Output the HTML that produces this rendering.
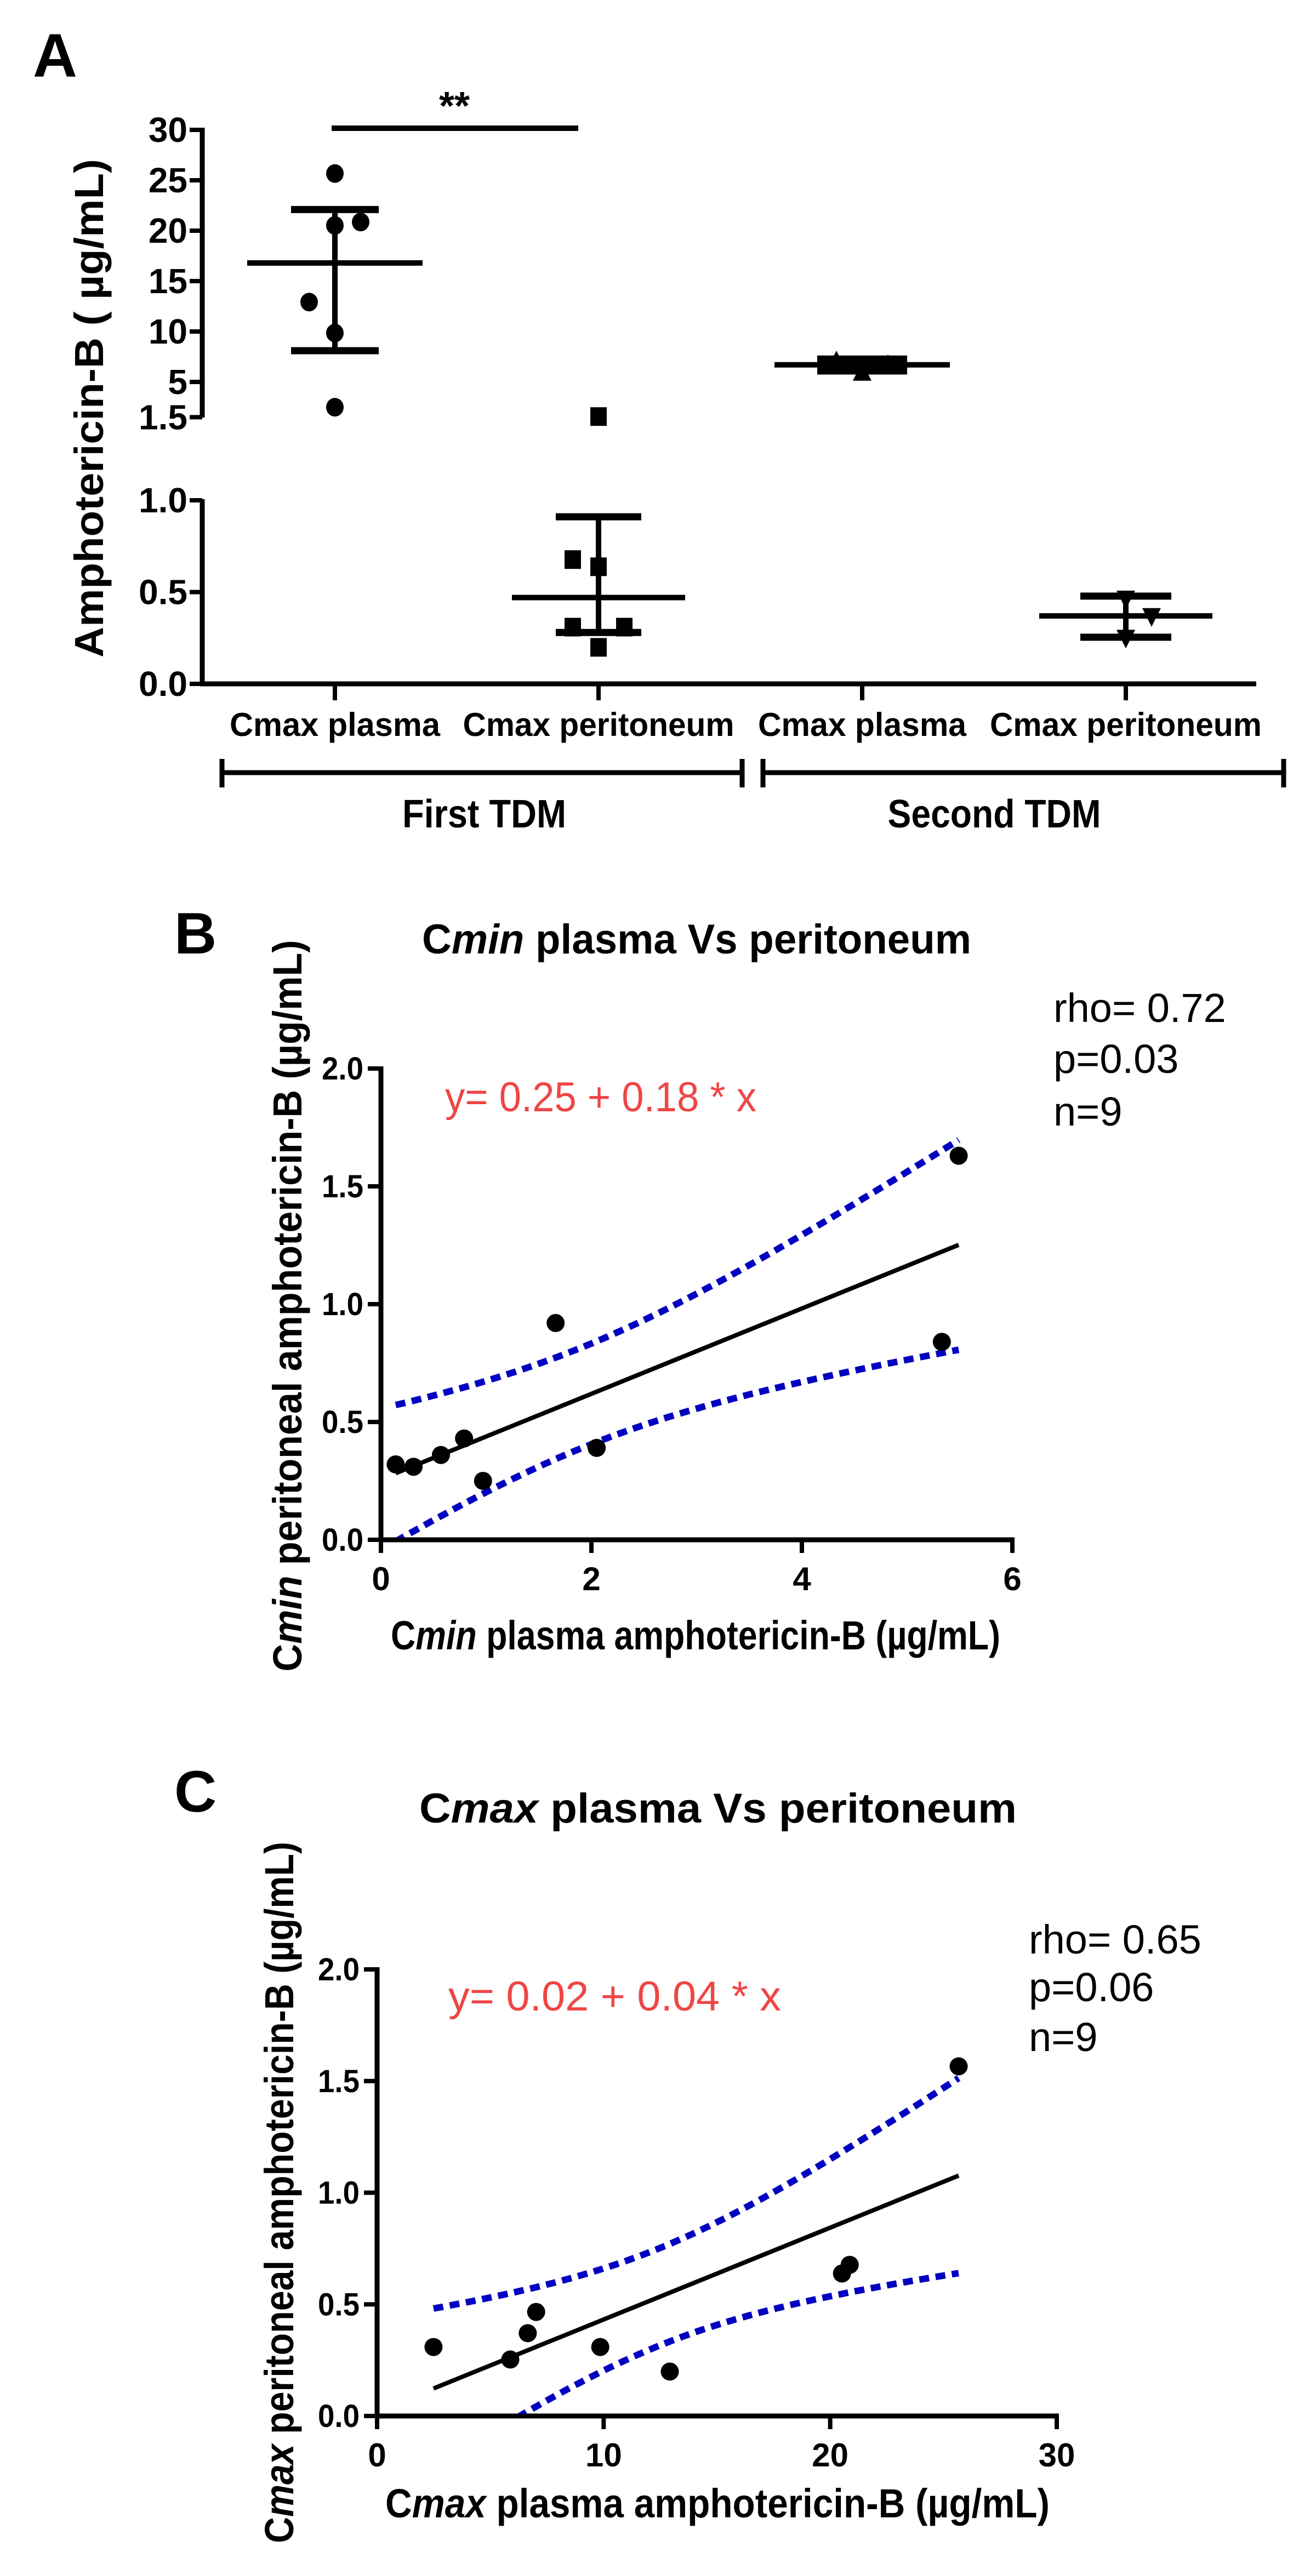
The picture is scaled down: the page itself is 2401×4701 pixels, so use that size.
<!DOCTYPE html>
<html><head><meta charset="utf-8"><style>
html,body{margin:0;padding:0;background:#fff;}
svg{display:block;}
text{font-family:"Liberation Sans",Arial,sans-serif;}
</style></head>
<body>
<svg id="fig" xmlns="http://www.w3.org/2000/svg" width="2401" height="4701" viewBox="0 0 2401 4701">
<rect x="0" y="0" width="2401" height="4701" fill="#fff"/>
<g id="pa"></g>
<g id="pb"></g>
<g id="pc"></g>
</svg>
<script>
// ---------- Panel A data ----------
const aCategories = ['Cmax plasma','Cmax peritoneum','Cmax plasma','Cmax peritoneum'];
const aPlasma1 = [25.67,20.52,20.86,12.92,9.85,2.49];
const aPerit1 = [1.566,0.677,0.638,0.309,0.309,0.199];
const aPlasma2 = [7.02,6.65,5.88];
const aPerit2 = [0.466,0.371,0.253];
const aJitter1 = [0,0,1,-1,0,0];
const aJitter2 = [0,-1,0,-1,1,0];
const aJitter3 = [-1,1,0];
const aJitter4 = [0,1,0];
const aMean = [16.8,0.47,6.7,0.37];
const aUpper = [22.1,0.91,7.27,0.478];
const aLower = [8.1,0.28,6.09,0.254];
const aUpperTicks = [5,10,15,20,25,30];
const aLowerTicks = [0.0,0.5,1.0];
const aGroups = ['First TDM','Second TDM'];

// ---------- Panel B data ----------
const bX = [0.14,0.31,0.57,0.79,0.97,1.66,2.05,5.33,5.49];
const bY = [0.32,0.31,0.36,0.43,0.25,0.92,0.39,0.84,1.63];
const bXTicks = [0,2,4,6];
const bYTicks = [0.0,0.5,1.0,1.5,2.0];

// ---------- Panel C data ----------
const cX = [2.49,5.88,6.65,7.02,9.85,12.92,20.52,20.86,25.67];
const cY = [0.309,0.253,0.371,0.466,0.309,0.199,0.638,0.677,1.566];
const cXTicks = [0,10,20,30];
const cYTicks = [0.0,0.5,1.0,1.5,2.0];

const NS = 'http://www.w3.org/2000/svg';
function mk(parent, tag, attrs){
  const e = document.createElementNS(NS, tag);
  for (const k in attrs) e.setAttribute(k, attrs[k]);
  parent.appendChild(e);
  return e;
}
function line(p,x1,y1,x2,y2,w,col){ return mk(p,'line',{x1:x1,y1:y1,x2:x2,y2:y2,stroke:col||'#000','stroke-width':w}); }
function txt(p,x,y,s,size,weight,anchor,fill){
  const t = mk(p,'text',{x:x,y:y,'font-size':size,'font-weight':weight||'bold','text-anchor':anchor||'start',fill:fill||'#000'});
  t.textContent = s; return t;
}

// ================= PANEL A =================
(function(){
  const g = document.getElementById('pa');
  const axX = 369, y0 = 1248;
  const yA = v => v >= 1.5 ? 697 - (v-5)*18.4 : y0 - v*335;
  const xA = i => 611 + i*481;
  const J = 47;

  let t = txt(g,60,140,'A',112);
  
  

  let l = line(g,axX,233,axX,762,9);
  
  
  l = line(g,axX,911,axX,y0+4,9);
  
  
  l = line(g,axX-4,y0,2292,y0,9);
  
  

  aUpperTicks.forEach(v=>{
    const y = yA(v);
    const tk = line(g,346,y,axX,y,8);
    
    
    const lb = txt(g,342,y+22,String(v),64,'bold','end');
    
    
  });
  {
    const y = yA(1.5);
    const tk = line(g,346,y,axX,y,8);
    
    
    const lb = txt(g,342,y+22,'1.5',64,'bold','end');
    
    
  }
  aLowerTicks.forEach(v=>{
    const y = yA(v);
    const tk = line(g,346,y,axX,y,8);
    
    
    const lb = txt(g,342,y+22,v.toFixed(1),64,'bold','end');
    
    
  });

  t = mk(g,'text',{x:0,y:0,'font-size':74,'font-weight':'bold','text-anchor':'middle',transform:'translate(188,745) rotate(-90)',textLength:910,lengthAdjust:'spacingAndGlyphs'});
  t.textContent = 'Amphotericin-B ( \u00b5g/mL)';
  
  

  const widths = [384,495,380,496];
  aCategories.forEach((c,i)=>{
    const tk = line(g,xA(i),y0,xA(i),1278,8);
    
    
    const lb = mk(g,'text',{x:xA(i),y:1343,'font-size':60,'font-weight':'bold','text-anchor':'middle',textLength:widths[i],lengthAdjust:'spacingAndGlyphs'});
    lb.textContent = c;
    
    
  });

  const br = [[405,1354],[1392,2342]];
  aGroups.forEach((gn,i)=>{
    const b = mk(g,'path',{d:`M${br[i][0]},1385 V1437 M${br[i][0]},1410 H${br[i][1]} M${br[i][1]},1385 V1437`,stroke:'#000','stroke-width':9,fill:'none'});
    
    
    const lb = mk(g,'text',{x:(br[i][0]+br[i][1])/2+(i?-53:4),y:1510,'font-size':72,'font-weight':'bold','text-anchor':'middle',textLength:i?389:299,lengthAdjust:'spacingAndGlyphs'});
    lb.textContent = gn;
    
    
  });

  l = line(g,605,234,1055,234,10);
  
  
  t = txt(g,829,218,'**',72,'bold','middle');
  
  

  const meanHalf = [160,158,160,158];
  const capHalf = [80,78,82,83];
  aMean.forEach((m,i)=>{
    const cx = xA(i);
    const v = line(g,cx,yA(aUpper[i]),cx,yA(aLower[i]),10);
    
    
    const ml = line(g,cx-meanHalf[i],yA(m),cx+meanHalf[i],yA(m),10);
    
    
    const cu = line(g,cx-capHalf[i],yA(aUpper[i]),cx+capHalf[i],yA(aUpper[i]),13);
    
    
    const cl = line(g,cx-capHalf[i],yA(aLower[i]),cx+capHalf[i],yA(aLower[i]),13);
    
    
  });

  aPlasma1.forEach((v,k)=>{
    const c = mk(g,'ellipse',{cx:xA(0)+aJitter1[k]*J,cy:yA(v),rx:16,ry:17,fill:'#000'});
    
    
  });
  aPerit1.forEach((v,k)=>{
    const x = xA(1)+aJitter2[k]*J, y = yA(v);
    const r = mk(g,'rect',{x:x-15,y:y-17,width:30,height:34,fill:'#000'});
    
    
  });
  aPlasma2.forEach((v,k)=>{
    const x = xA(2)+aJitter3[k]*J, y = yA(v);
    const p = mk(g,'polygon',{points:`${x},${y-20} ${x+17},${y+14} ${x-17},${y+14}`,fill:'#000'});
    
    
  });
  aPerit2.forEach((v,k)=>{
    const x = xA(3)+aJitter4[k]*J, y = yA(v);
    const p = mk(g,'polygon',{points:`${x-17},${y-14} ${x+17},${y-14} ${x},${y+20}`,fill:'#000'});
    
    
  });
})();

// ================= Scatter panels =================
function scatter(cfg){
  const g = document.getElementById(cfg.id);
  const xS = v => cfg.x0 + v*(cfg.x1-cfg.x0)/cfg.xMax;
  const yS = v => cfg.y0 - v*(cfg.y0-cfg.y2)/2;

  let t = txt(g,cfg.letterX,cfg.letterY,cfg.letter,107);
  
  

  t = mk(g,'text',{x:cfg.titleX,y:cfg.titleY,'font-size':76,'font-weight':'bold',textLength:cfg.titleW,lengthAdjust:'spacingAndGlyphs'});
  t.innerHTML = 'C<tspan font-style="italic">'+cfg.sub+'</tspan> plasma Vs peritoneum';
  
  

  let l = line(g,cfg.x0,cfg.y2-4,cfg.x0,cfg.y0+4,9);
  
  
  l = line(g,cfg.x0-4,cfg.y0,cfg.x1+4,cfg.y0,9);
  
  

  cfg.yTicks.forEach(v=>{
    const y = yS(v);
    const tk = line(g,cfg.x0-24,y,cfg.x0,y,8);
    
    
    const lb = mk(g,'text',{x:cfg.x0-32,y:y+20,'font-size':58,'font-weight':'bold','text-anchor':'end',textLength:76,lengthAdjust:'spacingAndGlyphs'});
    lb.textContent = v.toFixed(1);
    
    
  });
  cfg.xTicks.forEach(v=>{
    const x = xS(v);
    const tk = line(g,x,cfg.y0,x,cfg.y0+24,8);
    
    
    const lb = txt(g,x,cfg.y0+92,String(v),60,'bold','middle');
    
    
  });

  t = mk(g,'text',{x:cfg.xtX,y:cfg.xtY,'font-size':74,'font-weight':'bold',textLength:cfg.xtW,lengthAdjust:'spacingAndGlyphs'});
  t.innerHTML = 'C<tspan font-style="italic">'+cfg.sub+'</tspan> plasma amphotericin-B (\u00b5g/mL)';
  
  
  t = mk(g,'text',{x:0,y:0,'font-size':74,'font-weight':'bold','text-anchor':'middle',transform:`translate(${cfg.ytX},${cfg.ytC}) rotate(-90)`,textLength:cfg.ytL,lengthAdjust:'spacingAndGlyphs'});
  t.innerHTML = 'C<tspan font-style="italic">'+cfg.sub+'</tspan> peritoneal amphotericin-B (\u00b5g/mL)';
  
  

  t = mk(g,'text',{x:cfg.eqX,y:cfg.eqY,'font-size':76,fill:'#f04545',textLength:cfg.eqW,lengthAdjust:'spacingAndGlyphs'});
  t.textContent = cfg.eq;
  
  
  cfg.stats.forEach((s,i)=>{
    const st = txt(g,cfg.stX,cfg.stY[i],s,74,'normal');
    
    
  });

  const X = cfg.xs, Y = cfg.ys, n = X.length;
  const xm = X.reduce((a,b)=>a+b,0)/n, ym = Y.reduce((a,b)=>a+b,0)/n;
  let sxx=0, sxy=0;
  for (let i=0;i<n;i++){ sxx+=(X[i]-xm)**2; sxy+=(X[i]-xm)*(Y[i]-ym); }
  const b = sxy/sxx, a = ym - b*xm;
  let sse=0; for (let i=0;i<n;i++){ sse += (Y[i]-a-b*X[i])**2; }
  const s = Math.sqrt(sse/(n-2)), tcrit = 2.365;
  const xmin = Math.min(...X), xmax = Math.max(...X);

  const clipId = cfg.id+'clip';
  const defs = mk(g,'defs',{});
  const cp = mk(defs,'clipPath',{id:clipId});
  mk(cp,'rect',{x:cfg.x0,y:cfg.y2-40,width:cfg.x1-cfg.x0,height:cfg.y0-cfg.y2+36});

  const up=[], lo=[];
  for (let k=0;k<=80;k++){
    const xv = xmin + (xmax-xmin)*k/80;
    const se = s*Math.sqrt(1/n + (xv-xm)**2/sxx);
    const yh = a + b*xv;
    up.push(xS(xv).toFixed(1)+','+yS(yh+tcrit*se).toFixed(1));
    lo.push(xS(xv).toFixed(1)+','+yS(yh-tcrit*se).toFixed(1));
  }
  let p = mk(g,'polyline',{points:up.join(' '),fill:'none',stroke:'#0000c0','stroke-width':12,'stroke-dasharray':'18 12','clip-path':`url(#${clipId})`});
  
  
  p = mk(g,'polyline',{points:lo.join(' '),fill:'none',stroke:'#0000c0','stroke-width':12,'stroke-dasharray':'18 12','clip-path':`url(#${clipId})`});
  
  
  l = line(g,xS(xmin),yS(a+b*xmin),xS(xmax),yS(a+b*xmax),8);
  
  

  X.forEach((xv,i)=>{
    const c = mk(g,'circle',{cx:xS(xv),cy:yS(Y[i]),r:16.5,fill:'#000'});
    
    
  });
}

scatter({id:'pb',letter:'B',letterX:318,letterY:1740,sub:'min',
  x0:695,x1:1847,xMax:6,y0:2810,y2:1950,xs:bX,ys:bY,xTicks:bXTicks,yTicks:bYTicks,
  titleX:770,titleY:1740,titleW:1002,
  xtX:713,xtY:3010,xtW:1112,ytX:550,ytC:2383,ytL:1335,
  eqX:812,eqY:2028,eqW:568,eq:'y= 0.25 + 0.18 * x',
  stX:1922,stY:[1865,1958,2054],stats:['rho= 0.72','p=0.03','n=9']});

scatter({id:'pc',letter:'C',letterX:318,letterY:3306,sub:'max',
  x0:688,x1:1928,xMax:30,y0:4409,y2:3594,xs:cX,ys:cY,xTicks:cXTicks,yTicks:cYTicks,
  titleX:765,titleY:3326,titleW:1090,
  xtX:703,xtY:4594,xtW:1212,ytX:535,ytC:4001,ytL:1280,
  eqX:818,eqY:3669,eqW:607,eq:'y= 0.02 + 0.04 * x',
  stX:1877,stY:[3565,3652,3743],stats:['rho= 0.65','p=0.06','n=9']});
</script>
</body></html>
